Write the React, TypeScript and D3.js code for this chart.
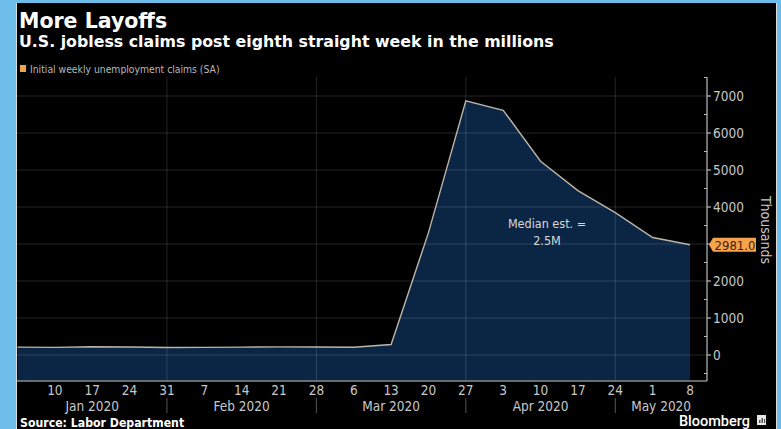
import React from "react";
import * as d3 from "d3";

const W = 781;
const H = 429;

const dates: string[] = [
  "2020-01-03", "2020-01-10", "2020-01-17", "2020-01-24", "2020-01-31",
  "2020-02-07", "2020-02-14", "2020-02-21", "2020-02-28", "2020-03-06",
  "2020-03-13", "2020-03-20", "2020-03-27", "2020-04-03", "2020-04-10",
  "2020-04-17", "2020-04-24", "2020-05-01", "2020-05-08",
];
const claims: number[] = [
  212, 207, 223, 216, 203, 205, 214, 219, 217, 211,
  282, 3307, 6867, 6615, 5237, 4442, 3846, 3176, 2981,
];
const yTicks: number[] = [0, 1000, 2000, 3000, 4000, 5000, 6000, 7000];
const monthLabels: string[] = ["Jan 2020", "Feb 2020", "Mar 2020", "Apr 2020", "May 2020"];
const monthBreaks: string[] = ["2020-01-03", "2020-01-31", "2020-02-28", "2020-03-27", "2020-04-24"];
const lastLabel = "2981.0";

const parse = d3.utcParse("%Y-%m-%d");
const data = dates.map((d, i) => ({ date: parse(d) as Date, value: claims[i] }));

const PLOT_LEFT = 17;
const PLOT_RIGHT = 707;
const PLOT_TOP = 77;
const PLOT_BOTTOM = 381;

const FONT = "'DejaVu Sans Condensed', 'DejaVu Sans', sans-serif";

export default function App() {
  const x = d3
    .scaleUtc()
    .domain([data[0].date, data[data.length - 1].date])
    .range([17.5, 690]);
  const y = d3.scaleLinear().domain([0, 7000]).range([355, 96]);

  const area = d3
    .area<{ date: Date; value: number }>()
    .x((d) => x(d.date))
    .y0(PLOT_BOTTOM)
    .y1((d) => y(d.value));
  const line = d3
    .line<{ date: Date; value: number }>()
    .x((d) => x(d.date))
    .y((d) => y(d.value));

  const minorTicks = d3.range(-500, 7600, 500).filter((v) => v % 1000 !== 0);
  const breakX = monthBreaks.map((d) => x(parse(d) as Date));
  const monthCenters = breakX.map((bx, i) => {
    const end = i + 1 < breakX.length ? breakX[i + 1] : PLOT_RIGHT;
    return (bx + end) / 2;
  });

  const last = data[data.length - 1];
  const ly = y(last.value);

  return (
    <div style={{ position: "fixed", left: 0, top: 0, width: W, height: H }}>
      <svg width={W} height={H} style={{ display: "block" }}>
        <rect x={0} y={0} width={W} height={H} fill="#6cbde9" />
        <rect x={16} y={3} width={761} height={H - 3} fill="#dcdcdc" />
        <rect x={17} y={3} width={759} height={H - 3} fill="#000" />

        {/* title */}
        <text x={19} y={28} fill="#fff" fontFamily="'DejaVu Sans', sans-serif" fontWeight="bold" fontSize={20.5}>
          More Layoffs
        </text>
        <text x={19} y={47} fill="#fff" fontFamily="'DejaVu Sans', sans-serif" fontWeight="bold" fontSize={15.8}>
          U.S. jobless claims post eighth straight week in the millions
        </text>
        <rect x={20} y={65} width={6} height={7} fill="#f0a54a" />
        <text x={30} y={73} fill="#b8b8b8" fontFamily={FONT} fontSize={10.3}>
          Initial weekly unemployment claims (SA)
        </text>

        {/* area */}
        <path d={area(data) || ""} fill="#0b2545" />

        {/* gridlines */}
        {yTicks.map((t) => (
          <line key={"h" + t} x1={PLOT_LEFT} x2={PLOT_RIGHT} y1={y(t)} y2={y(t)} stroke="rgba(255,255,255,0.14)" strokeWidth={1} />
        ))}
        {breakX.slice(1).map((bx, i) => (
          <line key={"v" + i} x1={bx} x2={bx} y1={PLOT_TOP} y2={PLOT_BOTTOM} stroke="rgba(255,255,255,0.14)" strokeWidth={1} />
        ))}

        {/* line */}
        <path d={line(data) || ""} fill="none" stroke="#bdb5a8" strokeWidth={1.4} />

        {/* x axis */}
        <line x1={PLOT_LEFT} x2={PLOT_RIGHT} y1={PLOT_BOTTOM} y2={PLOT_BOTTOM} stroke="#8a8a8a" strokeWidth={1.5} />
        {data.slice(1).map((d, i) => (
          <text key={"xt" + i} x={x(d.date)} y={395} textAnchor="middle" fill="#c8c8c8" fontFamily={FONT} fontSize={13.5}>
            {d3.utcFormat("%-d")(d.date)}
          </text>
        ))}
        {breakX.slice(1).map((bx, i) => (
          <line key={"sep" + i} x1={bx} x2={bx} y1={398} y2={413} stroke="#555" strokeWidth={1} />
        ))}
        {monthLabels.map((m, i) => (
          <text key={m} x={monthCenters[i]} y={411} textAnchor="middle" fill="#c8c8c8" fontFamily={FONT} fontSize={13.5}>
            {m}
          </text>
        ))}

        {/* y axis */}
        <line x1={PLOT_RIGHT} x2={PLOT_RIGHT} y1={PLOT_TOP} y2={PLOT_BOTTOM} stroke="#bbb" strokeWidth={1.2} />
        {yTicks.map((t) => (
          <g key={"yt" + t}>
            <line x1={PLOT_RIGHT} x2={PLOT_RIGHT + 4} y1={y(t)} y2={y(t)} stroke="#bbb" strokeWidth={1.2} />
            {Math.abs(y(t) - ly) > 14 && (
              <text x={PLOT_RIGHT + 6} y={y(t) + 5} fill="#c8c8c8" fontFamily={FONT} fontSize={13.5}>
                {t}
              </text>
            )}
          </g>
        ))}
        {minorTicks.map((t) => (
          <line key={"mt" + t} x1={PLOT_RIGHT - 3} x2={PLOT_RIGHT} y1={y(t)} y2={y(t)} stroke="#bbb" strokeWidth={1} />
        ))}
        <text
          transform={`translate(761,230) rotate(90)`}
          textAnchor="middle"
          fill="#c8c8c8"
          fontFamily={FONT}
          fontSize={14}
        >
          Thousands
        </text>

        {/* last value label */}
        <path
          d={`M${PLOT_RIGHT + 2},${ly} L${PLOT_RIGHT + 6},${ly - 7} L${PLOT_RIGHT + 49},${ly - 7} L${PLOT_RIGHT + 49},${ly + 7} L${PLOT_RIGHT + 6},${ly + 7} Z`}
          fill="#f5a34c"
        />
        <text x={PLOT_RIGHT + 28} y={ly + 5} textAnchor="middle" fill="#4a2000" fontFamily={FONT} fontSize={13}>
          {lastLabel}
        </text>

        {/* annotation */}
        <text x={547} y={228} textAnchor="middle" fill="#d8d8d8" fontFamily={FONT} fontSize={12.5}>
          Median est. =
        </text>
        <text x={547} y={245} textAnchor="middle" fill="#d8d8d8" fontFamily={FONT} fontSize={12.5}>
          2.5M
        </text>

        {/* footer */}
        <text x={20} y={427} fill="#fff" fontFamily={FONT} fontWeight="bold" fontSize={12.2}>
          Source: Labor Department
        </text>
        <text x={750} y={426} textAnchor="end" fill="#fff" fontFamily="Roboto, sans-serif" fontWeight={500} fontSize={14.5}>
          Bloomberg
        </text>
        <rect x={757} y={415} width={9} height={10} fill="#e8e8e8" />
        <rect x={759} y={420} width={1.5} height={3} fill="#555" />
        <rect x={761.5} y={418} width={1.5} height={5} fill="#555" />
        <rect x={764} y={419} width={1.2} height={4} fill="#555" />
      </svg>
    </div>
  );
}
